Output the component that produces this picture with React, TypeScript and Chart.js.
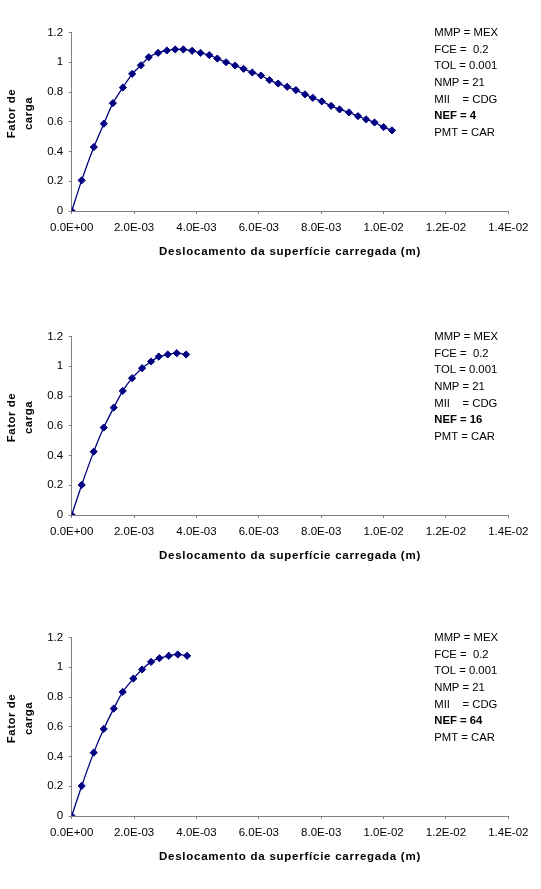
import React, { useEffect, useRef } from "react";
import { Chart, registerables } from "chart.js";

Chart.register(...registerables);

// Axis tick labels
const xTickLabels = ["0.0E+00", "2.0E-03", "4.0E-03", "6.0E-03", "8.0E-03", "1.0E-02", "1.2E-02", "1.4E-02"];
const yTickLabels = ["0", "0.2", "0.4", "0.6", "0.8", "1", "1.2"];

// NEF = 4: displacement of the loaded surface (m) and load factor
const nef4Displacement = [
  0, 0.00032, 0.00071, 0.00103, 0.00132, 0.00164, 0.00194, 0.00222, 0.00247, 0.00277,
  0.00305, 0.00332, 0.00358, 0.00386, 0.00413, 0.00441, 0.00467, 0.00495, 0.00524, 0.00551,
  0.00579, 0.00607, 0.00634, 0.00662, 0.00691, 0.00719, 0.00748, 0.00773, 0.00802, 0.00832,
  0.00859, 0.00889, 0.00918, 0.00944, 0.00971, 0.0100, 0.01027,
];
const nef4LoadFactor = [
  0, 0.206, 0.43, 0.587, 0.725, 0.83, 0.922, 0.98, 1.034, 1.063,
  1.079, 1.086, 1.086, 1.077, 1.063, 1.048, 1.025, 1.0, 0.978, 0.956,
  0.931, 0.911, 0.88, 0.857, 0.835, 0.813, 0.784, 0.761, 0.737, 0.707,
  0.683, 0.663, 0.638, 0.616, 0.595, 0.564, 0.542,
];

// NEF = 16
const nef16Displacement = [
  0, 0.00032, 0.000706, 0.001027, 0.001348, 0.001636, 0.001936, 0.002257, 0.002545, 0.002791,
  0.00308, 0.003369, 0.003668,
];
const nef16LoadFactor = [0, 0.202, 0.426, 0.588, 0.722, 0.834, 0.92, 0.987, 1.032, 1.065, 1.079, 1.088, 1.079];

// NEF = 64
const nef64Displacement = [
  0, 0.00032, 0.000706, 0.001027, 0.001348, 0.001636, 0.001979, 0.002257, 0.002545, 0.002813,
  0.003112, 0.003401, 0.0037,
];
const nef64LoadFactor = [0, 0.202, 0.426, 0.585, 0.722, 0.834, 0.924, 0.985, 1.036, 1.061, 1.077, 1.086, 1.077];

// Analysis parameters listed beside each plot
const paramLines = ["MMP = MEX", "FCE =  0.2", "TOL = 0.001", "NMP = 21", "MII    = CDG"];
const pmtLine = "PMT = CAR";

const xTitle = "Deslocamento da superfície carregada (m)";
const yTitleLines = ["Fator de", "carga"];

const FONT = '"Liberation Sans", Arial, sans-serif';
const AXIS_GRAY = "#808080";
const SERIES_COLOR = "#000080";

const panelText = {
  id: "panelText",
  afterDraw(chart: any, _args: any, opts: any) {
    const { ctx, chartArea } = chart;
    ctx.save();
    ctx.fillStyle = "#000";

    // rotated y-axis title, two lines
    ctx.font = `bold 11.5px ${FONT}`;
    (ctx as any).letterSpacing = "0.5px";
    ctx.textAlign = "center";
    ctx.textBaseline = "middle";
    ctx.save();
    ctx.translate(12, chartArea.top + 81);
    ctx.rotate(-Math.PI / 2);
    ctx.fillText(yTitleLines[0], 0, 0);
    ctx.fillText(yTitleLines[1], 0, 16.5);
    ctx.restore();

    // x-axis title
    (ctx as any).letterSpacing = "0.75px";
    ctx.fillText(xTitle, (chartArea.left + chartArea.right) / 2, chartArea.bottom + 41);

    // parameter block
    (ctx as any).letterSpacing = "0px";
    ctx.textAlign = "left";
    const lines = [...paramLines, `NEF = ${opts.nef}`, pmtLine];
    lines.forEach((line, i) => {
      ctx.font = line.startsWith("NEF") ? `bold 11.3px ${FONT}` : `11.3px ${FONT}`;
      ctx.fillText(line, 434.3, chartArea.top + 0.3 + 16.7 * i);
    });
    ctx.restore();
  },
};

type PanelProps = { top: number; xs: number[]; ys: number[]; nef: number };

function Panel({ top, xs, ys, nef }: PanelProps) {
  const ref = useRef<HTMLCanvasElement>(null);

  useEffect(() => {
    const chart = new Chart(ref.current!, {
      type: "line",
      data: {
        datasets: [
          {
            data: xs.map((x, i) => ({ x, y: ys[i] })),
            borderColor: SERIES_COLOR,
            backgroundColor: SERIES_COLOR,
            borderWidth: 1.3,
            tension: 0.2,
            pointStyle: "rectRot",
            pointRadius: 3.6,
            pointBorderWidth: 1,
            pointBackgroundColor: SERIES_COLOR,
            pointBorderColor: SERIES_COLOR,
          },
        ],
      },
      options: {
        responsive: false,
        animation: false,
        devicePixelRatio: 1,
        layout: { padding: { left: 0, top: 32.5, right: 32.7, bottom: 0 } },
        plugins: {
          legend: { display: false },
          tooltip: { enabled: false },
          panelText: { nef },
        } as any,
        scales: {
          x: {
            type: "linear",
            min: 0,
            max: 0.014,
            afterFit: (s: any) => {
              s.height = 69;
            },
            grid: { display: true, drawOnChartArea: false, drawTicks: true, tickLength: 3, color: AXIS_GRAY },
            border: { display: true, color: AXIS_GRAY, width: 1 },
            ticks: {
              stepSize: 0.002,
              autoSkip: false,
              maxRotation: 0,
              padding: 7,
              color: "#000",
              font: { family: FONT, size: 11.5 },
              callback: (_v: any, i: number) => xTickLabels[i],
            },
          },
          y: {
            type: "linear",
            min: 0,
            max: 1.2,
            afterFit: (s: any) => {
              s.width = 71.7;
            },
            grid: { display: true, drawOnChartArea: false, drawTicks: true, tickLength: 3, color: AXIS_GRAY },
            border: { display: true, color: AXIS_GRAY, width: 1 },
            ticks: {
              stepSize: 0.2,
              autoSkip: false,
              padding: 5.5,
              color: "#000",
              font: { family: FONT, size: 11.5 },
              callback: (_v: any, i: number) => yTickLabels[i],
            },
          },
        },
      },
      plugins: [panelText],
    });
    return () => chart.destroy();
  }, [xs, ys, nef]);

  return (
    <canvas
      ref={ref}
      width={541}
      height={280}
      style={{ position: "absolute", left: 0, top, width: 541, height: 280 }}
    />
  );
}

export default function App() {
  return (
    <div
      style={{
        position: "absolute",
        left: 0,
        top: 0,
        width: 541,
        height: 889,
        overflow: "hidden",
        background: "#fff",
      }}
    >
      <Panel top={0} xs={nef4Displacement} ys={nef4LoadFactor} nef={4} />
      <Panel top={304} xs={nef16Displacement} ys={nef16LoadFactor} nef={16} />
      <Panel top={605} xs={nef64Displacement} ys={nef64LoadFactor} nef={64} />
    </div>
  );
}
